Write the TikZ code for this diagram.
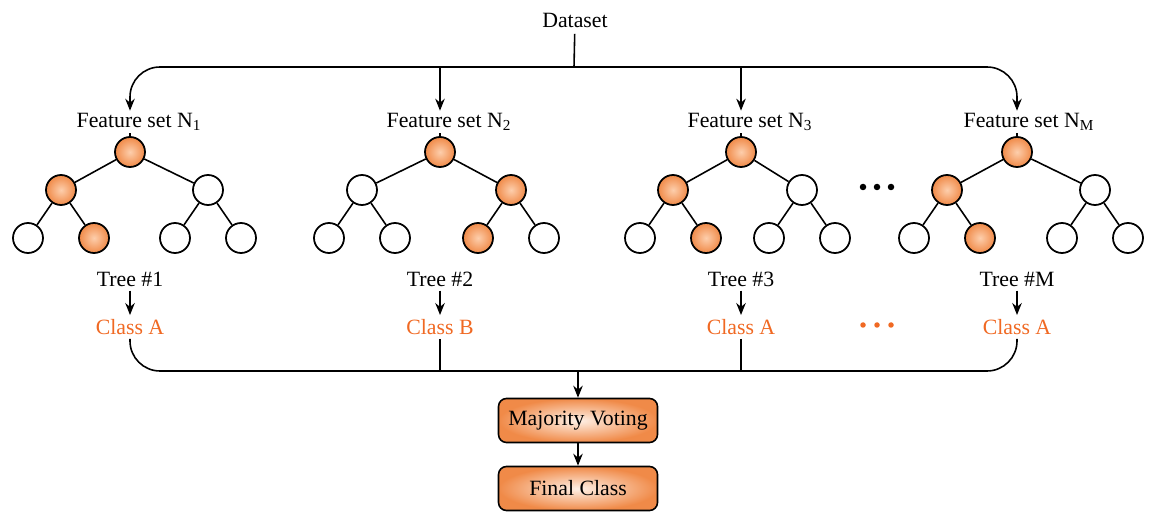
\documentclass[tikz,border=0pt]{standalone}
\usepackage{fontspec}
\setmainfont{Liberation Serif}
\usepackage{tikz}
\usetikzlibrary{calc, positioning, arrows.meta, shapes}

\definecolor{nodeorange}{RGB}{240,138,72}
\definecolor{nodelight}{RGB}{253,206,172}
\definecolor{classorange}{RGB}{240,105,35}

\tikzset{
    every node/.style={font=\fontsize{12.4pt}{14pt}\selectfont},
    arr/.style={-{Stealth[length=2.4mm,width=1.9mm]}},
    onpath/.style={circle, draw, line width=1pt, minimum size=0.6cm, inner sep=0pt,
        inner color=nodelight, outer color=nodeorange},
    offpath/.style={circle, draw, line width=1pt, minimum size=0.6cm, inner sep=0pt, fill=white},
    votebox/.style={rectangle, rounded corners=0.16cm, draw, line width=0.9pt,
        minimum width=3.18cm, minimum height=0.88cm, inner sep=1pt,
        inner color=white!70!nodelight, outer color=nodeorange}
}

\begin{document}
\begin{tikzpicture}[line width=0.9pt]

    \useasboundingbox (0,0) rectangle (23.04,10.22);

    % dataset and top bus
    \node (ds) at (11.5,9.82) {Dataset};
    \coordinate (top) at (11.48,8.88);
    \coordinate (bot) at (11.56,2.80);
    \draw (ds) -- (top);

    %draw the trees
    \foreach \i/\x/\l/\r/\sl/\sr/\slr/\srl/\cls in
        {1/2.60/1.22/4.16/onpath/offpath/onpath/offpath/A,
         2/8.80/7.24/10.22/offpath/onpath/offpath/onpath/B,
         3/14.82/13.46/16.04/onpath/offpath/onpath/offpath/A,
         M/20.34/18.94/21.90/onpath/offpath/onpath/offpath/A}
    {
        \node[anchor=west, inner ysep=1pt] (fs\i) at (\x-1.2,7.78) {Feature set N\textsubscript{\i}};
        \node[onpath] (r\i) at (\x,7.18) {};
        \node[\sl] (a\i) at (\l,6.42) {};
        \node[\sr] (b\i) at (\r,6.42) {};
        \node[offpath] (aa\i) at (\l-0.66,5.46) {};
        \node[\slr] (ab\i) at (\l+0.66,5.46) {};
        \node[\srl] (ba\i) at (\r-0.66,5.46) {};
        \node[offpath] (bb\i) at (\r+0.66,5.46) {};
        \draw (fs\i.south -| r\i) -- (r\i);
        \draw (r\i) -- (a\i);
        \draw (r\i) -- (b\i);
        \draw (a\i) -- (aa\i);
        \draw (a\i) -- (ab\i);
        \draw (b\i) -- (ba\i);
        \draw (b\i) -- (bb\i);
        \node[inner sep=2pt] (t\i) at (\x,4.64) {Tree \#\i};
        \node[inner sep=2pt, text=classorange] (c\i) at (\x,3.68) {Class \cls};
        \draw[arr] (t\i) -- (c\i);
    }

    %arrows from the top bus
    \draw[arr, rounded corners=0.6cm] (top) -| (fs1.north -| r1);
    \draw[arr, rounded corners=0.6cm] (top) -| (fsM.north -| rM);
    \draw[arr] (top -| r2) -- (fs2.north -| r2);
    \draw[arr] (top -| r3) -- (fs3.north -| r3);

    %bottom bus
    \draw[rounded corners=0.6cm] (c1.south) |- (bot) -| (cM.south);
    \draw (c2.south) -- (c2.south |- bot);
    \draw (c3.south) -- (c3.south |- bot);

    %dots
    \foreach \d in {17.26,17.54,17.82}
    {
        \fill (\d,6.48) circle (0.065);
        \fill[classorange] (\d,3.72) circle (0.055);
    }

    %voting
    \node[votebox] (mv) at (11.56,1.81) {Majority Voting};
    \node[votebox] (fc) at (11.56,0.45) {Final Class};
    \draw[arr] (bot) -- (mv);
    \draw[arr] (mv) -- (fc);

\end{tikzpicture}
\end{document}
